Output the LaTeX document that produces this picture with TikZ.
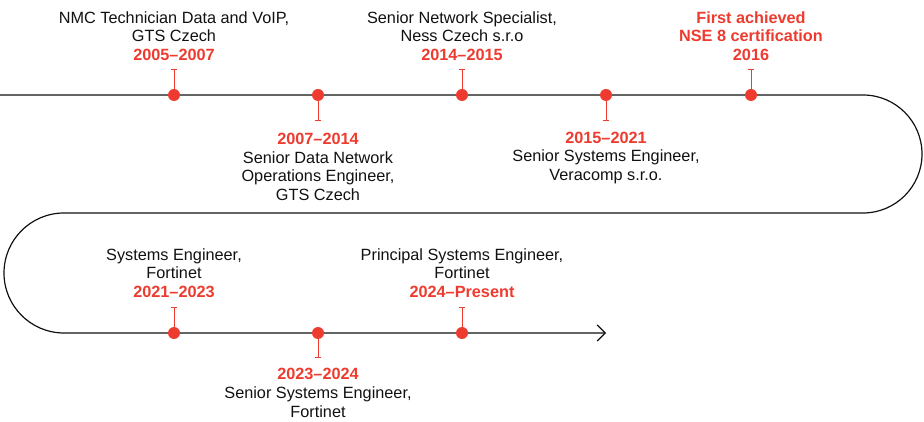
\documentclass[tikz,border=0pt]{standalone}
\usepackage{fontspec}
\setmainfont{Liberation Sans}
\usetikzlibrary{arrows.meta}
\definecolor{ftred}{HTML}{EE3B2F}
\definecolor{ink}{HTML}{111111}
\newcommand{\yearlbl}[1]{{\color{ftred}\bfseries #1}}
\begin{document}
\begin{tikzpicture}[x=0.75pt,y=0.75pt,
    spine/.style={draw=ink,line width=0.9pt,-{Straight Barb[length=6pt,width=12pt]}},
    dot/.style={circle,fill=ftred,inner sep=0pt,minimum size=9pt},
    tick/.style={draw=ftred,line width=0.75pt,-{Bar[width=4.5pt]}},
    lbl/.style={align=center,text=ink,inner sep=0pt,font=\fontsize{12.2}{14}\selectfont}]
          \useasboundingbox (0,0) rectangle (924,421);
          % path of the timeline
          \draw[spine] (0,326) -- (863,326) arc[start angle=90,end angle=-90,radius=59]
            -- (64,208) arc[start angle=90,end angle=270,radius=60] -- (606,88);
          % milestones
          \node[dot] at (174,326) (d1) {};
          \node[dot] at (318,326) (d2) {};
          \node[dot] at (462,326) (d3) {};
          \node[dot] at (606,326) (d4) {};
          \node[dot] at (751,326) (d5) {};
          \node[dot] at (174,88) (d6) {};
          \node[dot] at (318,88) (d7) {};
          \node[dot] at (462,88) (d8) {};
          \coordinate (t1) at (174,352);
          \coordinate (t2) at (318,300);
          \coordinate (t3) at (462,352);
          \coordinate (t4) at (606,300);
          \coordinate (t5) at (751,352);
          \coordinate (t6) at (174,114);
          \coordinate (t7) at (318,63);
          \coordinate (t8) at (462,114);
          \path[tick] (d1) edge (t1);
          \path[tick] (d2) edge (t2);
          \path[tick] (d3) edge (t3);
          \path[tick] (d4) edge (t4);
          \path[tick] (d5) edge (t5);
          \path[tick] (d6) edge (t6);
          \path[tick] (d7) edge (t7);
          \path[tick] (d8) edge (t8);
          % labels
          \node[lbl] at (174,385) (l1) {NMC Technician Data and VoIP,\\GTS Czech\\\yearlbl{2005–2007}};
          \node[lbl] at (318,254) (l2) {\yearlbl{2007–2014}\\Senior Data Network\\Operations Engineer,\\GTS Czech};
          \node[lbl] at (462,385) (l3) {Senior Network Specialist,\\Ness Czech s.r.o\\\yearlbl{2014–2015}};
          \node[lbl] at (606,263) (l4) {\yearlbl{2015–2021}\\Senior Systems Engineer,\\Veracomp s.r.o.};
          \node[lbl] at (751,385) (l5) {\yearlbl{First achieved}\\\yearlbl{NSE 8 certification}\\\yearlbl{2016}};
          \node[lbl] at (174,148) (l6) {Systems Engineer,\\Fortinet\\\yearlbl{2021–2023}};
          \node[lbl] at (318,28) (l7) {\yearlbl{2023–2024}\\Senior Systems Engineer,\\Fortinet};
          \node[lbl] at (462,148) (l8) {Principal Systems Engineer,\\Fortinet\\\yearlbl{2024–Present}};
        \end{tikzpicture}
\end{document}
